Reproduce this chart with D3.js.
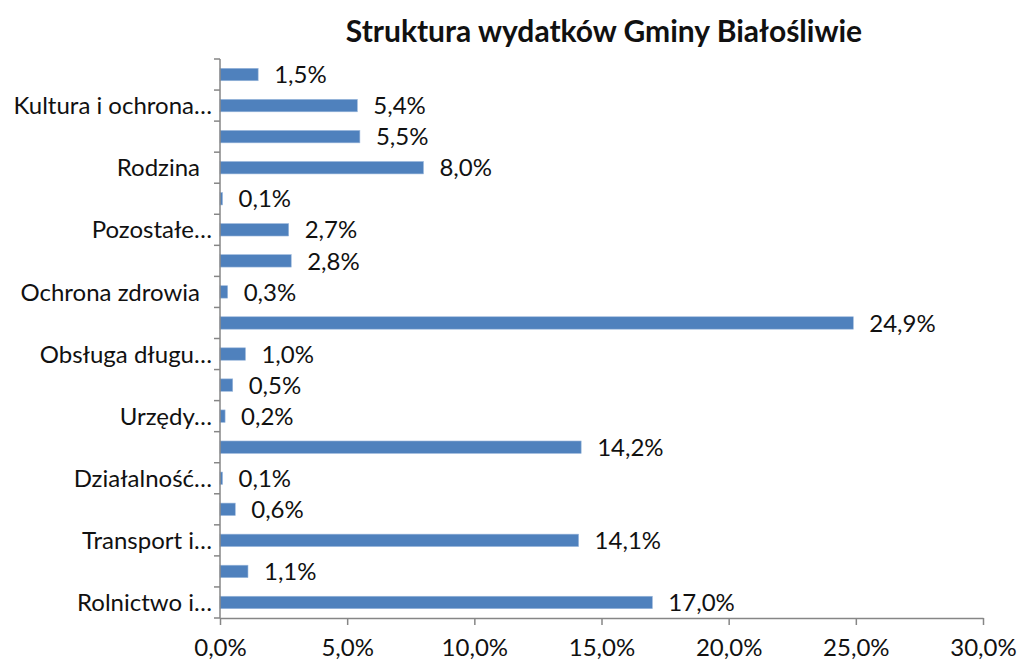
<html>
<head>
  <meta charset="UTF-8">
  <title>Struktura wydatków</title>
  <script src="https://d3js.org/d3.v7.min.js"></script>
  <style>
    body { margin: 0; background: white; }
    text { font-family: Lato, "Open Sans", sans-serif; fill: #111; }
  </style>
</head>
<body>
<svg></svg>
<script>
  // data, bottom to top
  const categories = ["Rolnictwo i…", "", "Transport i…", "", "Działalność…", "", "Urzędy…", "",
                      "Obsługa długu…", "", "Ochrona zdrowia\u2002", "", "Pozostałe…", "", "Rodzina\u2002", "",
                      "Kultura i ochrona…", ""];
  const values = [17.0, 1.1, 14.1, 0.6, 0.1, 14.2, 0.2, 0.5, 1.0, 24.9, 0.3, 2.8, 2.7, 0.1, 8.0, 5.5, 5.4, 1.5];
  const xTicks = [0, 5, 10, 15, 20, 25, 30];

  const width = 1017, height = 662;
  const margins = { top: 59, right: 34, bottom: 44, left: 220 };
  const chartWidth = width - margins.left - margins.right;
  const chartHeight = height - margins.top - margins.bottom;
  const fontSize = "24px";

  const fmt = v => v.toFixed(1).replace(".", ",") + "%";

  let svg = d3.select("svg").attr("width", width).attr("height", height);

  svg.append("text")
     .attr("x", 604).attr("y", 42)
     .attr("text-anchor", "middle")
     .style("font-size", "30px").style("font-weight", "bold")
     .text("Struktura wydatków Gminy Białośliwie");

  let chartArea = svg.append("g").attr("transform", `translate(${margins.left}, ${margins.top})`);

  const xScale = d3.scaleLinear().domain([0, 30]).range([0, chartWidth]);
  const idx = d3.range(values.length);
  const yScale = d3.scaleBand().domain(idx.slice().reverse()).range([0, chartHeight]).paddingInner(0.6).paddingOuter(0.3);

  // bars
  chartArea.selectAll("rect.bar").data(idx).join("rect")
    .attr("class", "bar")
    .attr("x", 0)
    .attr("y", i => yScale(i))
    .attr("width", i => xScale(values[i]))
    .attr("height", yScale.bandwidth())
    .style("fill", "#4f81bd")
    .style("stroke", "#9bb8dc").style("stroke-width", 0.6);

  // value labels
  chartArea.selectAll("text.val").data(idx).join("text")
    .attr("class", "val")
    .attr("x", i => xScale(values[i]) + 16)
    .attr("y", i => yScale(i) + yScale.bandwidth() / 2)
    .attr("dy", "0.36em")
    .style("font-size", fontSize)
    .text(i => fmt(values[i]));

  // y axis line and boundary ticks
  const step = chartHeight / values.length;
  chartArea.append("line").attr("x1", 0).attr("x2", 0).attr("y1", 0).attr("y2", chartHeight)
    .style("stroke", "#868686").style("stroke-width", 1.5);
  chartArea.selectAll("line.ytick").data(d3.range(values.length + 1)).join("line")
    .attr("class", "ytick")
    .attr("x1", -6).attr("x2", 0)
    .attr("y1", k => k * step).attr("y2", k => k * step)
    .style("stroke", "#868686").style("stroke-width", 1.5);

  // category labels
  chartArea.selectAll("text.cat").data(idx).join("text")
    .attr("class", "cat")
    .attr("x", -8)
    .attr("y", i => yScale(i) + yScale.bandwidth() / 2)
    .attr("dy", "0.36em")
    .attr("text-anchor", "end")
    .style("font-size", fontSize)
    .text(i => categories[i]);

  // x axis
  let bottomAxis = d3.axisBottom(xScale).tickValues(xTicks).tickSize(7).tickSizeOuter(0)
    .tickFormat(fmt).tickPadding(14);
  let xg = chartArea.append("g")
    .attr("transform", `translate(0, ${chartHeight})`)
    .call(bottomAxis);
  xg.select(".domain").style("stroke", "#868686").style("stroke-width", 1.5);
  xg.selectAll(".tick line").style("stroke", "#868686").style("stroke-width", 1.5);
  xg.selectAll(".tick text").style("font-size", fontSize).style("font-family", "Lato, sans-serif").style("fill", "#111");
</script>
</body>
</html>
